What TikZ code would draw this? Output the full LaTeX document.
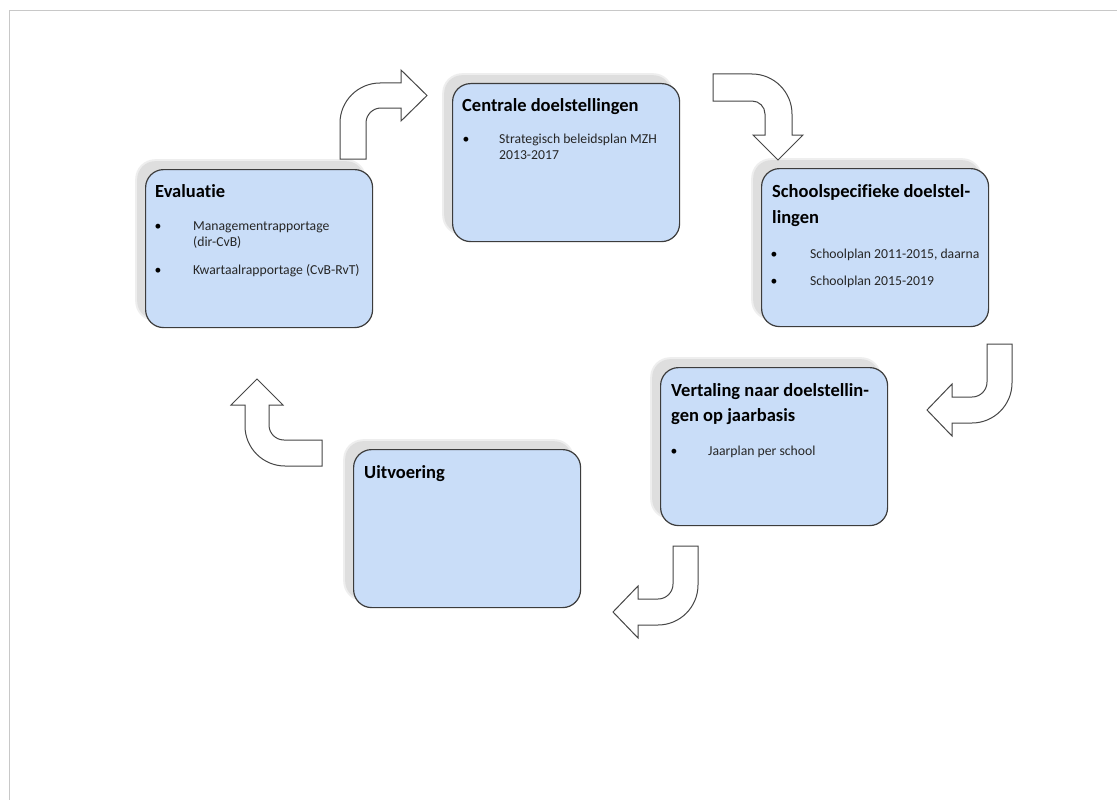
\documentclass[tikz,border=0pt]{standalone}
\usepackage{fontspec}
\setmainfont{Carlito}[Ligatures=NoCommon]
\definecolor{boxfill}{RGB}{201,221,248}
\definecolor{boxline}{RGB}{60,60,60}
\definecolor{arrowline}{RGB}{70,70,70}
\definecolor{shadowgray}{RGB}{222,222,222}
\definecolor{shadowsoft}{RGB}{238,238,238}
\definecolor{pagegray}{RGB}{200,200,200}
\tikzset{
  pbox/.style={draw=boxline, fill=boxfill, rounded corners=18pt, line width=1.2pt,
    minimum width=227pt, minimum height=158pt, anchor=north west, inner sep=0pt},
  pshadow/.style={fill=shadowgray, draw=none, rounded corners=18pt,
    minimum width=227pt, minimum height=158pt, anchor=north west, inner sep=0pt},
  psoft/.style={fill=shadowsoft, draw=none, rounded corners=20pt,
    minimum width=231pt, minimum height=162pt, anchor=north west, inner sep=0pt},
  barrow/.style={draw=arrowline, fill=white, line width=1pt, line join=miter},
  ttl/.style={anchor=base west, inner sep=0pt, text=black,
    font=\fontsize{18.5}{22}\selectfont\bfseries},
  bul/.style={anchor=base west, inner sep=0pt, text=black!85,
    font=\fontsize{13.7}{16}\selectfont},
  dot/.style={anchor=base, inner sep=0pt, text=black,
    font=\fontsize{13.7}{16}\selectfont},
}
\begin{document}
\begin{tikzpicture}[x=1pt,y=-1pt]
\useasboundingbox (0,0) rectangle (1117,800);
\fill[white] (0,0) rectangle (1117,800);
\draw[pagegray, line width=1pt] (9.5,800) -- (9.5,10.5) -- (1117,10.5);

% shadows
\foreach \bx/\by in {452/83, 145/169, 761/168, 660/367, 353/449}{
  \node[psoft] at (\bx-10,\by-10) {};
  \node[pshadow] at (\bx-8,\by-8) {};
}

% boxes
\node[pbox] (cent) at (452,83) {};
\node[pbox] (eval) at (145,169) {};
\node[pbox] (schl) at (761,168) {};
\node[pbox] (vert) at (660,367) {};
\node[pbox] (uitv) at (353,449) {};

% Centrale
\node[ttl] (centT) at (462,111) {Centrale doelstellingen};
\node[dot] (centD1) at (466,143) {•};
\node[bul] (centB1) at (499,143) {Strategisch beleidsplan MZH};
\node[bul] (centB1b) at (499,159) {2013-2017};

% Evaluatie
\node[ttl] (evalT) at (155,197) {Evaluatie};
\node[dot] (evalD1) at (158,230) {•};
\node[bul] (evalB1) at (193,230) {Managementrapportage};
\node[bul] (evalB1b) at (193,246) {(dir-CvB)};
\node[dot] (evalD2) at (158,274) {•};
\node[bul] (evalB2) at (193,274) {Kwartaalrapportage (CvB-RvT)};

% Schoolspecifieke
\node[ttl] (schlT) at (772,197) {Schoolspecifieke doelstel-};
\node[ttl] (schlT2) at (772,223) {lingen};
\node[dot] (schlD1) at (774,258) {•};
\node[bul] (schlB1) at (810,258) {Schoolplan 2011-2015, daarna};
\node[dot] (schlD2) at (774,285) {•};
\node[bul] (schlB2) at (810,285) {Schoolplan 2015-2019};

% Vertaling
\node[ttl] (vertT) at (671,396) {Vertaling naar doelstellin-};
\node[ttl] (vertT2) at (671,421) {gen op jaarbasis};
\node[dot] (vertD1) at (674,455) {•};
\node[bul] (vertB1) at (708,455) {Jaarplan per school};

% Uitvoering
\node[ttl] (uitvT) at (364,478) {Uitvoering};

% bent arrows
% Evaluatie -> Centrale
\draw[barrow] (340,159) -- (340,123) .. controls (340,101) and (358,83) .. (380,83)
  -- (401,83) -- (401,70) -- (427,95.5) -- (401,121) -- (401,108) -- (381,108)
  .. controls (372.7,108) and (366,114.7) .. (366,123) -- (366,159) -- cycle;
% Centrale -> Schoolspecifieke
\draw[barrow] (713,74) -- (752,74) .. controls (774,74) and (792,92) .. (792,114)
  -- (792,135) -- (803,135) -- (778,160) -- (753,135) -- (765,135) -- (765,114)
  .. controls (765,106.8) and (759.2,101) .. (752,101) -- (713,101) -- cycle;
% Schoolspecifieke -> Vertaling
\draw[barrow] (987,344) -- (1012,344) -- (1012,383) .. controls (1012,405) and (994,423) .. (972,423)
  -- (952,423) -- (952,436) -- (927,410) -- (952,384) -- (952,397) -- (972,397)
  .. controls (980.3,397) and (987,390.3) .. (987,382) -- cycle;
% Vertaling -> Uitvoering
\draw[barrow] (673,546) -- (698,546) -- (698,585) .. controls (698,607) and (680,625) .. (658,625)
  -- (638,625) -- (638,638) -- (613,612) -- (638,586) -- (638,599) -- (658,599)
  .. controls (666.3,599) and (673,592.3) .. (673,584) -- cycle;
% Uitvoering -> Evaluatie
\draw[barrow] (322,440) -- (322,466) -- (285,466) .. controls (263,466) and (245,448) .. (245,426)
  -- (245,405) -- (231,405) -- (257,379) -- (283,405) -- (269,405) -- (269,425)
  .. controls (269,433.3) and (275.7,440) .. (284,440) -- cycle;
\end{tikzpicture}
\end{document}
